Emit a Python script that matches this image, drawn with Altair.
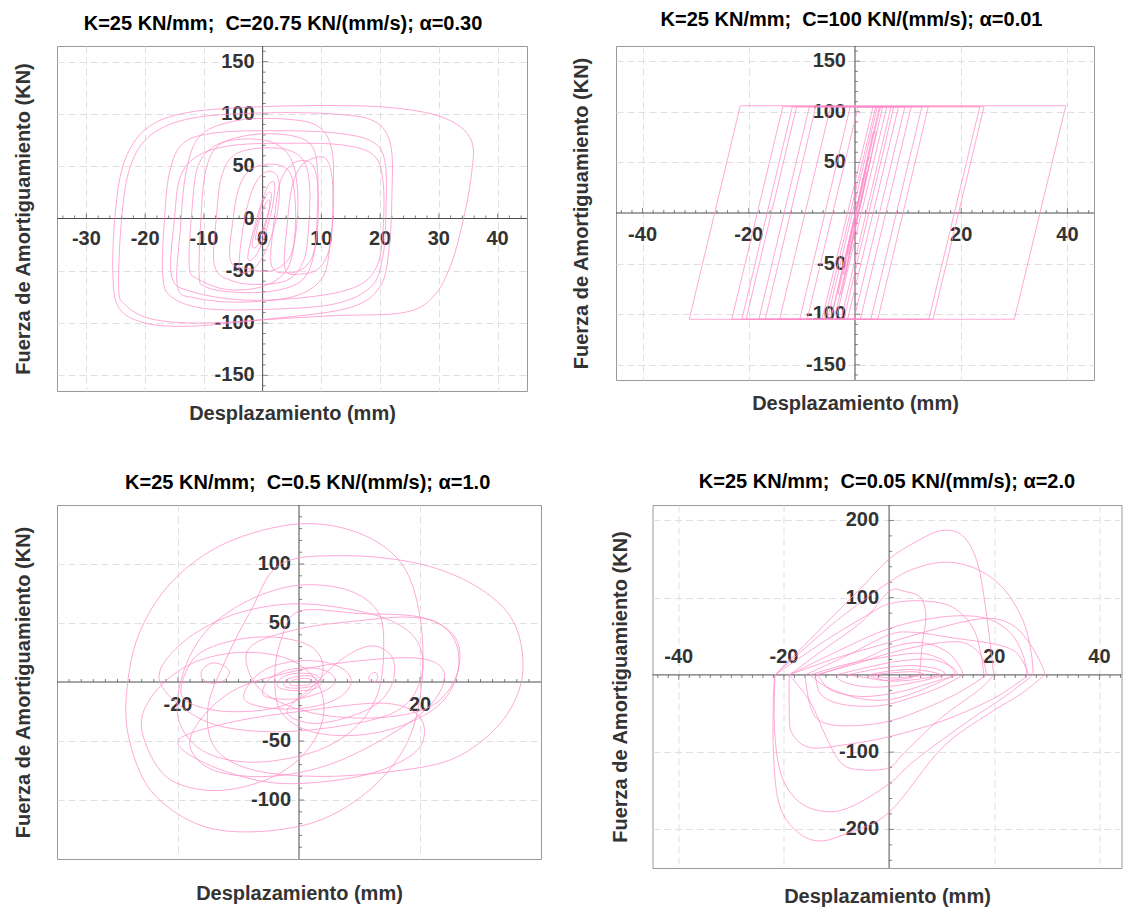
import altair as alt
import pandas as pd

FONT = "Liberation Sans"
PINK = "#ff8cc8"
AXIS_COLOR = "#4d4d4d"
LABEL_COLOR = "#333333"
GRID_COLOR = "#e0e0e0"
FRAME_COLOR = "#9a9a9a"

TITLE_1 = "K=25 KN/mm;\u00a0 C=20.75 KN/(mm/s); α=0.30"
TITLE_2 = "K=25 KN/mm;\u00a0 C=100 KN/(mm/s); α=0.01"
TITLE_3 = "K=25 KN/mm;\u00a0 C=0.5 KN/(mm/s); α=1.0"
TITLE_4 = "K=25 KN/mm;\u00a0 C=0.05 KN/(mm/s); α=2.0"
X_TITLE = "Desplazamiento (mm)"
Y_TITLE = "Fuerza de Amortiguamiento (KN)"

# ---------------- Panel 1 (alpha = 0.30): rounded hysteresis loops ----------------
P1_L01 = [(-25.5, -50), (-25, 10), (-23.5, 55), (-20, 85), (-14, 100), (-4, 106), (10, 108), (22, 106),
          (31, 96), (35.5, 75), (35.5, 40), (34, -5), (32, -45), (29, -75), (24, -90), (12, -93),
          (0, -97), (-12, -103), (-20, -100), (-24.5, -85)]
P1_L02 = [(-24.5, -65), (-24, 0), (-22.5, 50), (-19, 80), (-12, 96), (0, 101), (12, 100), (19, 93),
          (21.8, 70), (22, 20), (21.5, -30), (20, -65), (15, -85), (3, -95), (-10, -100), (-19, -96),
          (-23.5, -82)]
P1_L03 = [(-17, -55), (-16.7, 0), (-15.8, 45), (-13.5, 72), (-8, 82), (2, 84), (12, 82), (18.5, 74),
          (20.8, 55), (21, 10), (20.5, -35), (18.5, -65), (12, -82), (0, -87), (-10, -86), (-15.5, -75)]
P1_L04 = [(-14.5, -65), (-14, -10), (-13, 45), (-10.5, 80), (-4, 94), (4, 95), (9.5, 88), (11.8, 65),
          (12, 20), (11.5, -25), (10, -58), (5, -75), (-4, -80), (-11.5, -76)]
P1_L05 = [(-10.8, -55), (-10.5, 0), (-9.7, 45), (-7.5, 70), (-2, 80), (4, 80), (8, 72), (9.3, 50),
          (9.3, 5), (8.7, -35), (6.5, -60), (1, -70), (-6, -70), (-9.8, -65)]
P1_L06 = [(-8.2, -45), (-7.8, 5), (-7, 40), (-5, 60), (-1, 67), (4, 66), (7, 55), (8, 30), (7.8, -10),
          (7, -40), (4.5, -58), (0, -63), (-5, -60)]
P1_L07 = [(3.8, -48), (4.2, -5), (5, 30), (6.5, 50), (8.8, 58), (10.8, 57), (11.8, 40), (12, 5),
          (11.3, -30), (9.5, -48), (6.5, -53)]
P1_L08 = [(1.5, -45), (2, 0), (3, 35), (5, 52), (7.5, 55), (9, 45), (9.5, 15), (9, -25), (7.5, -45),
          (4.5, -52)]
P1_L09 = [(-5.5, -40), (-5, 0), (-4, 30), (-2, 47), (1.5, 52), (4.5, 45), (5.5, 20), (5.5, -15),
          (4.5, -38), (1.5, -50), (-2.5, -48)]
P1_L10 = [(-4, -48), (-3.5, -15), (-2.2, 20), (-0.5, 40), (1.5, 45), (2.8, 35), (2.5, 5), (1, -25),
          (-1, -45), (-3, -52)]
P1_L11 = [(-2.5, -35), (-1.5, -10), (-0.2, 15), (1, 32), (2, 34), (1.8, 15), (0.6, -12), (-0.8, -32),
          (-2, -40)]
P1_L12 = [(-1.8, -25), (-1, -5), (0, 15), (1, 25), (1.5, 22), (1, 5), (0, -15), (-1, -27)]
P1_L13 = [(-1.2, -18), (-0.5, 0), (0.3, 12), (1, 18), (1.2, 12), (0.5, -3), (-0.3, -14), (-1, -20)]
P1_L14 = [(-12.5, -45), (-12, 10), (-11, 50), (-8, 70), (-3, 76), (2, 72), (5, 55), (6, 20), (5.5, -20),
          (4, -50), (0, -65), (-6, -68), (-11, -58)]
P1_L15 = [(-15.5, -55), (-15, 0), (-14, 40), (-11, 60), (-5, 70), (5, 72), (14, 70), (19, 60),
          (20.5, 35), (20.5, -10), (19.5, -45), (16, -65), (8, -75), (-3, -78), (-12, -70)]
P1_LOOPS = [P1_L01, P1_L02, P1_L03, P1_L04, P1_L05, P1_L06, P1_L07, P1_L08, P1_L09, P1_L10,
            P1_L11, P1_L12, P1_L13, P1_L14, P1_L15]

# ---------------- Panel 2 (alpha = 0.01): friction-like parallelograms ----------------
P2_L01 = [(-31.2, -105), (-21.6, 106), (39.7, 106), (30.0, -105)]
P2_L02 = [(-23.2, -105), (-13.6, 105), (24.3, 105), (14.7, -105)]
P2_L03 = [(-21.3, -105), (-11.8, 105), (23.5, 105), (13.9, -105)]
P2_L04 = [(-18.1, -105), (-8.6, 105), (12.6, 105), (3.0, -105)]
P2_L05 = [(-16.9, -105), (-7.4, 105), (10.6, 105), (1.0, -105)]
P2_L06 = [(-14.2, -105), (-4.6, 105), (8.2, 105), (-1.4, -105)]
P2_L07 = [(-10.4, -105), (-0.9, 105), (6.0, 105), (-3.6, -105)]
P2_L08 = [(-20.5, -105), (-11.0, 105), (13.8, 105), (4.3, -105)]
P2_L09 = [(-4.2, -98), (4.6, 105), (5.2, 105), (-3.6, -98)]
P2_L10 = [(-3.2, -80), (3.4, 80), (4.0, 80), (-2.6, -80)]
P2_L11 = [(-2.2, -60), (2.6, 55), (3.0, 55), (-1.8, -60)]
P2_L12 = [(-5.2, -105), (4.2, 105), (4.8, 105), (-4.6, -105)]
P2_L13 = [(-1.5, -40), (1.8, 40), (2.2, 40), (-1.1, -40)]
P2_L14 = [(-2.6, -105), (6.8, 105), (7.3, 105), (-2.1, -105)]
P2_L15 = [(-6.2, -105), (3.4, 105), (3.9, 105), (-5.7, -105)]
P2_L16 = [(-9.0, -105), (0.6, 105), (9.4, 105), (-0.2, -105)]
P2_LOOPS = [P2_L01, P2_L02, P2_L03, P2_L04, P2_L05, P2_L06, P2_L07, P2_L08, P2_L09, P2_L10,
            P2_L11, P2_L12, P2_L13, P2_L14, P2_L15, P2_L16]

# ---------------- Panel 3 (alpha = 1.0): elliptical loops ----------------
P3_L01 = [(-28.5, -10), (-26.5, 40), (-21, 85), (-12, 118), (0, 134), (10, 126), (17, 100), (20, 55),
          (20.3, 0), (18, -50), (12, -90), (3, -118), (-8, -127), (-17, -120), (-24.5, -92), (-28, -50)]
P3_L02 = [(-3, 100), (8, 107), (20, 100), (29, 82), (35, 55), (37, 20), (36, -12), (32, -42), (25, -66),
          (15, -76), (3, -80), (-8, -74), (-14, -55), (-15, -20), (-12, 20), (-8, 60)]
P3_L03 = [(-20, -30), (-19, 10), (-15, 45), (-8, 70), (0, 82), (8, 78), (13, 60), (14, 30), (13, -10),
          (9, -40), (2, -60), (-8, -68), (-16, -58)]
P3_L04 = [(-23, 0), (-20, 30), (-12, 55), (-2, 66), (8, 62), (16, 50), (20, 30), (20, 0), (16, -25),
          (6, -38), (-6, -42), (-16, -32)]
P3_L05 = [(0, 60), (10, 58), (20, 55), (25.5, 40), (26.5, 15), (24, -15), (18, -35), (10, -45), (2, -42),
          (-3, -25), (-4, 5), (-3, 35)]
P3_L06 = [(-18, -55), (-16, -30), (-10, -5), (0, 10), (10, 18), (20, 20), (24, 8), (22, -18), (15, -45),
          (5, -70), (-5, -80), (-14, -75)]
P3_L07 = [(-26, -40), (-24, -10), (-18, 15), (-10, 25), (-2, 20), (3, 0), (4, -30), (1, -60), (-5, -82),
          (-14, -92), (-22, -80)]
P3_L08 = [(-16, 10), (-14.5, 16), (-12.5, 14), (-11.5, 8), (-12.5, 1), (-14.5, -1), (-16, 3)]
P3_L09 = [(-19.5, -5), (-17, 22), (-11, 35), (-4, 38), (2, 30), (4, 12), (2, -8), (-4, -22), (-12, -25),
          (-18, -18)]
P3_L10 = [(-9, -15), (-8, 0), (-5, 12), (0, 18), (5, 16), (8, 8), (8.5, -3), (6, -15), (1, -22), (-5, -22)]
P3_L11 = [(-6, -10), (-5, 2), (-2, 10), (2, 12), (5, 8), (6, 0), (4, -8), (0, -14), (-4, -14)]
P3_L12 = [(-3.5, -4), (-3, 3), (-1, 7), (2, 7), (3.5, 3), (3.5, -3), (1.5, -7), (-1.5, -7)]
P3_L13 = [(-2.5, -3), (-2, 2), (0, 5), (2, 5), (3, 1.5), (2.5, -3), (0.5, -5), (-1.5, -5)]
P3_L14 = [(-1.5, -2), (-1, 1.5), (0.5, 3), (1.8, 2.5), (2.2, 0), (1.5, -2.5), (0, -3), (-1, -3)]
P3_L15 = [(-2, -25), (2, -5), (6, 15), (10, 28), (13, 30), (15.5, 20), (15.5, 0), (13, -18), (8, -30),
          (2, -35)]
P3_L16 = [(11.5, 3), (12, 7), (12.7, 8), (13, 4), (12.6, 0), (12, 0)]
P3_L17 = [(-8, 30), (0, 45), (10, 52), (18, 55), (23, 50), (26, 32), (26, 5), (22, -20), (14, -30),
          (4, -28), (-4, -15), (-8, 5)]
P3_L18 = [(-20, -50), (-15, -70), (-5, -85), (5, -84), (14, -74), (20, -55), (20, -30), (14, -18),
          (0, -25), (-12, -35)]
P3_LOOPS = [P3_L01, P3_L02, P3_L03, P3_L04, P3_L05, P3_L06, P3_L07, P3_L08, P3_L09, P3_L10,
            P3_L11, P3_L12, P3_L13, P3_L14, P3_L15, P3_L16, P3_L17, P3_L18]

# ---------------- Panel 4 (alpha = 2.0): half-cycle paths ----------------
P4_U01 = [(-21.7, 0), (-13, 60), (-5, 115), (0, 150), (5, 172), (10, 187), (14, 180), (16.8, 145),
          (18.5, 80), (19.9, 0)]
P4_U02 = [(-21.7, 0), (-10, 70), (0, 120), (5, 138), (11, 146), (17, 136), (22, 110), (25.5, 70),
          (27, 30), (27.4, 0)]
P4_U03 = [(-19, 0), (-10, 22), (0, 42), (8, 58), (15, 70), (20, 73), (24, 62), (27, 38), (29.2, 10),
          (29.6, 0)]
P4_U04 = [(-19, 0), (-12, 35), (-5, 70), (0, 108), (3, 108), (6, 100), (7, 75), (6.3, 40), (5.8, 0)]
P4_U05 = [(-16, 0), (-8, 25), (0, 52), (5, 55), (12, 48), (20, 40), (24, 30), (26, 10), (26.5, 0)]
P4_U06 = [(-14, 0), (-6, 15), (0, 28), (8, 40), (14, 42), (17.5, 25), (18.5, 0)]
P4_U07 = [(-13.5, 0), (-5, 20), (0, 35), (6, 42), (11, 30), (13.5, 10), (14, 0)]
P4_U08 = [(-10, 0), (-4, 10), (2, 18), (8, 20), (12, 10), (13, 0)]
P4_U09 = [(-8, 0), (-2, 8), (4, 12), (9, 8), (11, 0)]
P4_U10 = [(-15, 0), (-8, 14), (0, 24), (6, 28), (10, 20), (12, 8), (12.5, 0)]
P4_U11 = [(-4, 0), (0, 5), (4, 7), (8, 4), (10, 0)]
P4_U12 = [(-3, 0), (1, 3), (5, 4), (7, 0)]
P4_U13 = [(-21.7, 0), (-12, 45), (-4, 78), (0, 92), (6, 96), (12, 88), (16, 60), (17.5, 25), (18, 0)]
P4_U14 = [(-19, 0), (-10, 30), (0, 60), (10, 75), (18, 74), (23, 55), (25.5, 25), (26.2, 0)]
P4_D01 = [(29.6, 0), (25, -25), (19, -50), (10, -95), (0, -178), (-8, -205), (-13.5, -215), (-18, -200),
          (-21, -165), (-22, -100), (-22, -30), (-21.7, 0)]
P4_D02 = [(27.4, 0), (22, -28), (15, -60), (5, -110), (0, -141), (-7, -170), (-12, -177), (-17, -165),
          (-20.5, -130), (-21.8, -70), (-21.7, 0)]
P4_D03 = [(19.9, 0), (17, -20), (10, -55), (3, -100), (0, -120), (-5, -123), (-9, -115), (-12, -80),
          (-15, -35), (-19, 0)]
P4_D04 = [(26.5, 0), (20, -30), (10, -60), (0, -80), (-8, -90), (-15, -94), (-18.5, -75), (-19, -40),
          (-19, 0)]
P4_D05 = [(18.5, 0), (14, -20), (8, -40), (0, -60), (-8, -66), (-13, -60), (-15, -40), (-16, 0)]
P4_D06 = [(14, 0), (10, -15), (4, -30), (-2, -40), (-9, -38), (-13, -25), (-14, 0)]
P4_D07 = [(13, 0), (8, -10), (2, -22), (-5, -28), (-11, -20), (-13.5, 0)]
P4_D08 = [(11, 0), (6, -8), (0, -15), (-5, -15), (-9, -8), (-10, 0)]
P4_D09 = [(12.5, 0), (6, -20), (0, -32), (-6, -30), (-12, -15), (-15, 0)]
P4_D10 = [(6, 0), (3, -5), (-1, -7), (-4, -4), (-8, 0)]
P4_D11 = [(10, 0), (5, -6), (0, -8), (-3, -3), (-4, 0)]
P4_D12 = [(7, 0), (3, -3), (0, -4), (-2, -2), (-3, 0)]
P4_LOOPS = [P4_U01, P4_U02, P4_U03, P4_U04, P4_U05, P4_U06, P4_U07, P4_U08, P4_U09, P4_U10,
            P4_U11, P4_U12, P4_U13, P4_U14, P4_D01, P4_D02, P4_D03, P4_D04, P4_D05, P4_D06,
            P4_D07, P4_D08, P4_D09, P4_D10, P4_D11, P4_D12]

# ---------------- tick / label values ----------------
P1_X_LABELS = [-30, -20, -10, 0, 10, 20, 30, 40]
P1_Y_LABELS = [-150, -100, -50, 0, 50, 100, 150]
P1_X_MAJOR = [-30, -20, -10, 10, 20, 30, 40]
P1_Y_MAJOR = [-150, -100, -50, 50, 100, 150]
P1_X_MINOR = [v for v in range(-34, 45, 2) if v % 10 != 0]
P1_Y_MINOR = [v for v in range(-160, 161, 10) if v % 50 != 0]

P2_X_LABELS = [-40, -20, 20, 40]
P2_Y_LABELS = [-150, -100, -50, 50, 100, 150]
P2_X_MAJOR = [-40, -20, 20, 40]
P2_Y_MAJOR = [-150, -100, -50, 50, 100, 150]
P2_X_MINOR = [v for v in range(-44, 45, 2) if v % 20 != 0]
P2_Y_MINOR = [v for v in range(-160, 161, 10) if v % 50 != 0]

P3_X_LABELS = [-20, 20]
P3_Y_LABELS = [-100, -50, 50, 100]
P3_X_MAJOR = [-20, 20]
P3_Y_MAJOR = [-100, -50, 50, 100]
P3_X_MINOR = [v for v in range(-40, 41, 2) if v % 20 != 0]
P3_Y_MINOR = [v for v in range(-140, 141, 10) if v % 50 != 0]

P4_X_LABELS = [-40, -20, 20, 40]
P4_Y_LABELS = [-200, -100, 100, 200]
P4_X_MAJOR = [-40, -20, 20, 40]
P4_Y_MAJOR = [-200, -100, 100, 200]
P4_X_MINOR = [v for v in range(-44, 45, 2) if v % 20 != 0]
P4_Y_MINOR = [v for v in range(-240, 211, 20) if v % 100 != 0]


def loops_frame(loops):
    rows = []
    for k, pts in enumerate(loops):
        for i, (x, y) in enumerate(pts):
            rows.append({"loop": k, "i": i, "x": x, "y": y})
    return pd.DataFrame(rows)


def panel(p):
    xs = alt.Scale(domain=p["xdom"], nice=False, zero=False)
    ys = alt.Scale(domain=p["ydom"], nice=False, zero=False)
    xaxis = alt.Axis(title=X_TITLE, labels=False, ticks=False, domain=False, grid=True,
                     values=p["xgrid"], gridColor=GRID_COLOR, gridDash=[7, 4], gridWidth=1,
                     titleFont=FONT, titleFontSize=20, titleFontWeight="bold", titleColor=LABEL_COLOR,
                     titlePadding=p["xtp"])
    yaxis = alt.Axis(title=Y_TITLE, labels=False, ticks=False, domain=False, grid=True,
                     values=p["ygrid"], gridColor=GRID_COLOR, gridDash=[7, 4], gridWidth=1,
                     titleFont=FONT, titleFontSize=20, titleFontWeight="bold", titleColor=LABEL_COLOR,
                     titlePadding=p["ytp"])
    X = lambda: alt.X("x:Q", scale=xs, axis=xaxis)
    Y = lambda: alt.Y("y:Q", scale=ys, axis=yaxis)

    xd0, xd1 = p["xdom"]
    yd0, yd1 = p["ydom"]
    axes_df = pd.DataFrame({"x": [xd0, 0], "x2": [xd1, 0], "y": [0, yd0], "y2": [0, yd1]})
    axes = alt.Chart(axes_df).mark_rule(color=AXIS_COLOR, strokeWidth=1).encode(
        x=X(), x2="x2:Q", y=Y(), y2="y2:Q")

    layers = [axes]
    sgn = p["xtick_dir"]
    for vals, L in ((p["xminor"], 3), (p["xmajor"], 5)):
        d = pd.DataFrame({"x": vals, "y": [0] * len(vals)})
        layers.append(alt.Chart(d).mark_tick(orient="vertical", size=L, thickness=1, color=AXIS_COLOR,
                                             yOffset=sgn * L / 2).encode(x=X(), y=Y()))
    for vals, L in ((p["yminor"], 3), (p["ymajor"], 5)):
        d = pd.DataFrame({"x": [0] * len(vals), "y": vals})
        layers.append(alt.Chart(d).mark_tick(orient="horizontal", size=L, thickness=1, color=AXIS_COLOR,
                                             xOffset=L / 2).encode(x=X(), y=Y()))

    xl = pd.DataFrame({"x": p["xlabels"], "y": [0] * len(p["xlabels"]),
                       "t": [str(v) for v in p["xlabels"]]})
    layers.append(alt.Chart(xl).mark_text(font=FONT, fontSize=20, fontWeight="bold", color=LABEL_COLOR,
                                          align="center", baseline="middle", dy=p["xlab_dy"]).encode(
        x=X(), y=Y(), text="t:N"))
    yl = pd.DataFrame({"x": [0] * len(p["ylabels"]), "y": p["ylabels"],
                       "t": [str(v) for v in p["ylabels"]]})
    layers.append(alt.Chart(yl).mark_text(font=FONT, fontSize=20, fontWeight="bold", color=LABEL_COLOR,
                                          align="right", baseline="middle", dx=p["ylab_dx"]).encode(
        x=X(), y=Y(), text="t:N"))

    curves = alt.Chart(loops_frame(p["loops"])).mark_line(
        interpolate=p["interp"], color=PINK, strokeWidth=0.75).encode(
        x=X(), y=Y(), detail="loop:N", order="i:Q")
    layers.append(curves)

    return alt.layer(*layers).properties(
        width=p["w"], height=p["h"],
        title=alt.TitleParams(p["title"], font=FONT, fontSize=20, fontWeight="bold", color="black",
                              anchor="middle", offset=p["toff"], dx=p["tdx"], frame="group"))


P1 = dict(title=TITLE_1, loops=P1_LOOPS, interp="cardinal-closed", xdom=[-35, 45], ydom=[-165, 165],
          w=470, h=345, xgrid=[-30, -20, -10, 10, 20, 30, 40], ygrid=[-150, -100, -50, 50, 100, 150],
          xlabels=P1_X_LABELS, ylabels=P1_Y_LABELS, xmajor=P1_X_MAJOR, xminor=P1_X_MINOR,
          ymajor=P1_Y_MAJOR, yminor=P1_Y_MINOR, xtick_dir=-1, xlab_dy=20, ylab_dx=-8,
          xtp=12.7, ytp=24, toff=11.3, tdx=-9)
P2 = dict(title=TITLE_2, loops=P2_LOOPS, interp="linear-closed", xdom=[-45, 45], ydom=[-165, 165],
          w=478, h=334, xgrid=[-40, -20, 20, 40], ygrid=[-150, -100, -50, 50, 100, 150],
          xlabels=P2_X_LABELS, ylabels=P2_Y_LABELS, xmajor=P2_X_MAJOR, xminor=P2_X_MINOR,
          ymajor=P2_Y_MAJOR, yminor=P2_Y_MINOR, xtick_dir=-1, xlab_dy=22, ylab_dx=-9,
          xtp=13.7, ytp=24.7, toff=15.3, tdx=-3.5)
P3 = dict(title=TITLE_3, loops=P3_LOOPS, interp="cardinal-closed", xdom=[-40, 40], ydom=[-150, 150],
          w=484, h=354, xgrid=[-20, 20], ygrid=[-100, -50, 50, 100],
          xlabels=P3_X_LABELS, ylabels=P3_Y_LABELS, xmajor=P3_X_MAJOR, xminor=P3_X_MINOR,
          ymajor=P3_Y_MAJOR, yminor=P3_Y_MINOR, xtick_dir=-1, xlab_dy=23, ylab_dx=-8,
          xtp=24.4, ytp=24, toff=12, tdx=8.7)
P4 = dict(title=TITLE_4, loops=P4_LOOPS, interp="cardinal", xdom=[-45, 44.2], ydom=[-250, 220],
          w=469, h=363, xgrid=[-40, -20, 20, 40], ygrid=[-200, -100, 100, 200],
          xlabels=P4_X_LABELS, ylabels=P4_Y_LABELS, xmajor=P4_X_MAJOR, xminor=P4_X_MINOR,
          ymajor=P4_Y_MAJOR, yminor=P4_Y_MINOR, xtick_dir=1, xlab_dy=-18, ylab_dx=-10,
          xtp=18.4, ytp=22.3, toff=13, tdx=0)

row1 = alt.hconcat(panel(P1), panel(P2), spacing=42)
row2 = alt.hconcat(panel(P3), panel(P4), spacing=67.5)
chart = alt.vconcat(row1, row2, spacing=46).properties(
    padding={"left": 12, "top": 9, "right": 0, "bottom": 0},
    background="white",
).configure_view(stroke=FRAME_COLOR, strokeWidth=1)

chart.save("out.html", embed_options={"renderer": "svg", "actions": False})
